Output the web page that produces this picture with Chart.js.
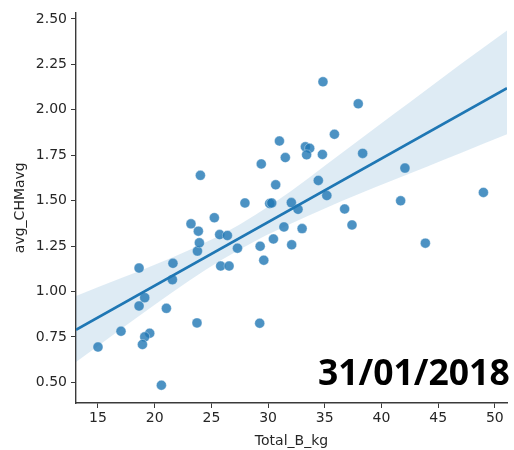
<!DOCTYPE html>
<html lang="en">
<head>
  <meta charset="UTF-8">
  <title>avg_CHMavg vs Total_B_kg</title>
  <script src="https://cdn.jsdelivr.net/npm/chart.js"></script>
  <style>
    body { margin: 0; background: #fff; }
    .wrap { position: relative; width: 514px; height: 450px; }
    .stamp {
      position: absolute; left: 318px; top: 353px;
      font-family: "Open Sans", sans-serif; font-weight: 700;
      font-size: 35.5px; line-height: 36px; color: #000;
      white-space: nowrap;
    }
  </style>
</head>
<body>
  <div class="wrap">
    <canvas id="reg" width="514" height="450"></canvas>
    <div class="stamp">31/01/2018</div>
  </div>
  <script>
    // scatter points
    const totalB = [15.0, 17.03, 18.62, 18.62, 19.12, 19.56, 19.12, 18.92, 20.59, 21.03,
      21.61, 21.56, 23.73, 23.77, 23.94, 23.85, 23.2, 24.03, 25.26, 25.73,
      26.41, 25.82, 26.56, 27.3, 27.96, 29.3, 29.4, 29.26, 29.62, 30.14,
      30.32, 30.47, 30.67, 31.0, 31.4, 31.52, 32.05, 32.08, 32.64, 33.0,
      33.29, 33.67, 33.4, 34.43, 34.79, 34.84, 35.18, 35.85, 36.75, 37.4,
      37.95, 38.34, 41.69, 42.07, 43.87, 48.99];
    const chmAvg = [0.694, 0.781, 1.129, 0.92, 0.966, 0.77, 0.75, 0.708, 0.484, 0.907,
      1.155, 1.065, 0.827, 1.222, 1.268, 1.332, 1.372, 1.639, 1.406, 1.313,
      1.308, 1.14, 1.14, 1.238, 1.487, 1.249, 1.702, 0.825, 1.172, 1.484,
      1.487, 1.289, 1.587, 1.828, 1.355, 1.737, 1.489, 1.257, 1.452, 1.346,
      1.796, 1.788, 1.752, 1.611, 1.754, 2.154, 1.528, 1.865, 1.454, 1.366,
      2.033, 1.76, 1.499, 1.679, 1.266, 1.545];

    // regression line ends and confidence band
    const fitX = [13.06, 51.07];
    const fitY = [0.789, 2.119];
    const bandX = [13.06, 17, 20, 23, 26, 29, 32, 35, 38, 41, 44, 47, 51.07];
    const bandUpper = [0.975, 1.072, 1.147, 1.227, 1.317, 1.427, 1.552, 1.692, 1.832, 1.972, 2.112, 2.252, 2.437];
    const bandLower = [0.611, 0.792, 0.927, 1.057, 1.177, 1.282, 1.372, 1.457, 1.536, 1.612, 1.687, 1.762, 1.865];

    const xTicks = [15, 20, 25, 30, 35, 40, 45, 50];
    const yTicks = [0.5, 0.75, 1.0, 1.25, 1.5, 1.75, 2.0, 2.25, 2.5];

    const blue = '31,119,180';
    const ink = '#262626';
    const spine = '#3a3a3a';
    const pts = (xs, ys) => xs.map((x, i) => ({ x: x, y: ys[i] }));

    const ctx = document.getElementById('reg').getContext('2d');
    new Chart(ctx, {
      type: 'scatter',
      data: {
        datasets: [
          { type: 'line', data: pts(bandX, bandUpper), borderWidth: 0, pointRadius: 0,
            fill: '+1', backgroundColor: 'rgba(' + blue + ',0.15)', cubicInterpolationMode: 'monotone', order: 1 },
          { type: 'line', data: pts(bandX, bandLower), borderWidth: 0, pointRadius: 0,
            fill: false, cubicInterpolationMode: 'monotone', order: 1 },
          { type: 'line', data: pts(fitX, fitY), borderColor: 'rgb(' + blue + ')', borderWidth: 2.6,
            pointRadius: 0, fill: false, order: 2 },
          { data: pts(totalB, chmAvg), pointRadius: 5, pointHoverRadius: 5, borderWidth: 0.6,
            backgroundColor: 'rgba(' + blue + ',0.8)', borderColor: 'rgba(255,255,255,0.6)', order: 3 }
        ]
      },
      options: {
        responsive: false,
        animation: false,
        layout: { padding: { left: 12, right: 7, top: 11, bottom: 0 } },
        plugins: { legend: { display: false }, tooltip: { enabled: false } },
        scales: {
          x: {
            type: 'linear', min: 13.06, max: 51.07,
            afterBuildTicks: s => { s.ticks = xTicks.map(v => ({ value: v })); },
            afterFit: s => { s.height = 47; },
            grid: { display: true, drawOnChartArea: false, tickLength: 5, color: spine, tickWidth: 1 },
            border: { display: true, color: spine, width: 1.4 },
            ticks: { color: ink, padding: 2, font: { family: 'DejaVu Sans', size: 14 },
              callback: v => String(v) },
            title: { display: true, text: 'Total_B_kg', color: ink, padding: { top: 0, bottom: 0 },
              font: { family: 'DejaVu Sans', size: 14 } }
          },
          y: {
            type: 'linear', min: 0.386, max: 2.536,
            afterBuildTicks: s => { s.ticks = yTicks.map(v => ({ value: v })); },
            afterFit: s => { s.width = 64; },
            grid: { display: true, drawOnChartArea: false, tickLength: 5, color: spine, tickWidth: 1 },
            border: { display: true, color: spine, width: 1.4 },
            ticks: { color: ink, padding: 4, font: { family: 'DejaVu Sans', size: 14 },
              callback: v => v.toFixed(2) },
            title: { display: true, text: 'avg_CHMavg', color: ink, padding: { top: 0, bottom: 4 },
              font: { family: 'DejaVu Sans', size: 14 } }
          }
        }
      }
    });
  </script>
</body>
</html>
